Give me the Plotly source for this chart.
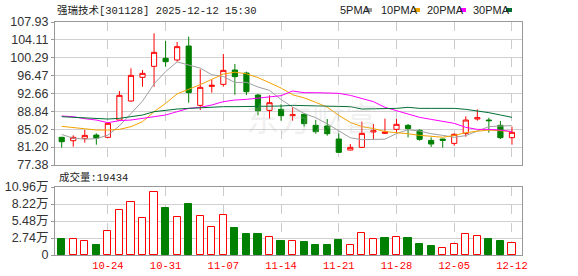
import plotly.graph_objects as go

dates = ["10-20","10-21","10-22","10-23","10-24",
         "10-27","10-28","10-29","10-30","10-31",
         "11-03","11-04","11-05","11-06","11-07",
         "11-10","11-11","11-12","11-13","11-14",
         "11-17","11-18","11-19","11-20","11-21",
         "11-24","11-25","11-26","11-27","11-28",
         "12-01","12-02","12-03","12-04","12-05",
         "12-08","12-09","12-10","12-11","12-12"]

opens  = [83.29,82.57,83.07,83.78,83.29,86.99,91.05,96.11,98.46,100.17,
          99.81,102.80,90.12,94.18,94.61,97.67,97.03,92.33,89.05,89.27,
          87.92,88.20,85.85,85.71,82.93,80.58,81.15,84.43,84.14,85.00,
          85.85,84.78,82.64,82.93,82.00,84.14,87.21,86.99,85.85,83.22]
highs  = [83.40,83.71,84.85,84.14,86.56,93.18,98.03,97.67,105.51,103.87,
          103.66,104.80,97.82,95.68,101.09,98.96,97.32,92.54,92.26,90.34,
          89.70,88.34,86.99,87.21,84.14,81.86,86.64,86.14,87.28,87.21,
          86.14,85.00,83.29,83.00,84.14,87.78,89.27,87.49,86.78,85.57]
lows   = [81.08,81.29,82.15,81.72,83.20,86.78,90.91,94.11,94.11,98.39,
          99.45,90.69,89.13,92.83,94.11,92.40,92.33,87.99,87.27,86.85,
          86.85,85.57,84.07,83.64,79.95,80.50,81.10,82.93,84.00,84.29,
          83.29,82.57,81.22,81.08,81.50,83.43,86.85,84.29,82.93,81.72]
closes = [82.36,83.29,83.71,83.14,86.28,92.26,96.53,96.96,101.45,99.45,
          102.66,92.83,93.97,94.40,97.60,96.25,93.04,88.98,90.69,87.92,
          88.13,86.21,84.50,84.07,80.08,81.15,84.14,84.71,84.43,86.07,
          85.14,82.86,81.86,82.64,83.93,86.99,87.49,86.85,83.22,84.36]

ma5  = [83.90,83.10,82.90,83.00,83.76,85.74,88.38,91.03,94.70,97.33,
        99.41,98.67,98.07,96.66,96.29,95.01,95.05,94.05,93.31,91.38,
        89.75,88.39,87.49,86.17,84.60,83.20,82.79,82.83,82.90,84.10,
        84.90,84.64,84.07,83.71,83.29,83.66,84.58,85.58,85.70,85.78]
ma10 = [85.64,85.35,84.99,84.85,84.85,84.99,85.57,86.63,88.77,90.54,
        92.57,93.53,94.55,95.68,96.81,97.21,96.86,96.06,94.99,93.83,
        92.38,91.72,90.77,89.74,87.99,86.48,85.59,85.16,84.53,84.35,
        84.05,83.72,83.45,83.31,83.69,84.28,84.61,84.83,84.71,84.53]
ma20 = [87.84,87.70,87.27,86.99,86.42,86.85,86.99,87.27,87.70,88.06,
        88.77,89.48,89.70,90.20,90.91,91.26,91.40,91.62,91.97,92.19,
        93.19,92.83,92.83,92.83,92.69,92.26,91.62,90.91,89.70,88.98,
        88.20,87.56,87.13,86.78,86.28,85.42,84.99,84.99,84.85,84.50]
ma30 = [87.70,87.56,87.35,87.20,87.20,87.35,87.70,88.06,88.77,89.13,
        89.34,89.48,89.63,89.70,89.84,89.84,89.84,89.84,89.98,89.98,
        90.12,90.05,90.05,89.98,89.98,89.84,89.34,89.34,89.48,89.48,
        89.70,89.48,89.48,89.48,89.48,89.27,88.98,88.56,88.06,87.56]

volumes = [25900,25400,22100,16200,39400,71800,84800,59400,101500,75600,
           60500,82100,62100,45900,63700,43700,34000,34000,29200,22700,
           22700,21100,16200,16200,24300,15700,35100,25900,27500,29200,
           27500,17800,14600,11300,17300,33500,30800,25900,22700,19434]

price_ticks = [77.38,81.20,85.02,88.84,92.66,96.47,100.29,104.11,107.93]
vol_tickvals = [0,27400,54800,82200,109600]
vol_ticktext = ["0","2.74万","5.48万","8.22万","10.96万"]
xtick_labels = ["10-24","10-31","11-07","11-14","11-21","11-28","12-05","12-12"]

RED = "#ff0000"
GREEN = "#008000"
W, H = 578, 276
X0, X1 = 55, 522
def py(p):
    return 1 - p / H

# volume colours: compare close with previous close
vol_red = [False] + [closes[i] >= closes[i-1] for i in range(1, len(closes))]
vol_line = [RED if r else GREEN for r in vol_red]
vol_fill = ["#ffffff" if r else GREEN for r in vol_red]

fig = go.Figure()

fig.add_trace(go.Candlestick(
    x=dates, open=opens, high=highs, low=lows, close=closes,
    increasing=dict(line=dict(color=RED, width=1), fillcolor="#ffffff"),
    decreasing=dict(line=dict(color=GREEN, width=1), fillcolor=GREEN),
    whiskerwidth=0, xaxis="x", yaxis="y", showlegend=False, hoverinfo="skip"))

for vals, col in [(ma5, "#a0a0a0"), (ma10, "#f5a300"), (ma20, "#ff00ff"), (ma30, "#006e33")]:
    fig.add_trace(go.Scatter(x=dates, y=vals, mode="lines",
                             line=dict(color=col, width=1),
                             xaxis="x", yaxis="y", showlegend=False, hoverinfo="skip"))

fig.add_trace(go.Bar(x=dates, y=volumes, width=0.62,
                     marker=dict(color=vol_fill, line=dict(color=vol_line, width=1)),
                     xaxis="x2", yaxis="y2", showlegend=False, hoverinfo="skip"))

xr = [-0.58, 39.87]
axis_common = dict(showline=True, mirror=True, linecolor="#999999", linewidth=1,
                   automargin=False, zeroline=False)

fig.update_layout(
    template="none",
    width=W, height=H,
    margin=dict(l=0, r=0, t=0, b=0),
    paper_bgcolor="#ffffff", plot_bgcolor="#ffffff",
    boxgap=0.36, bargap=0,
    xaxis=dict(domain=[X0/W, X1/W], anchor="y", type="category", categoryarray=dates,
               range=xr, tickmode="array", tickvals=xtick_labels, showticklabels=False,
               showgrid=True, gridcolor="#cccccc", griddash="dash", gridwidth=1,
               ticks="", rangeslider=dict(visible=False), **axis_common),
    yaxis=dict(domain=[py(165), py(22)], anchor="x", range=[77.38, 107.93],
               tickmode="array", tickvals=price_ticks,
               ticktext=["%.2f" % v for v in price_ticks],
               showgrid=True, gridcolor="#d0d0d0", gridwidth=1,
               ticks="outside", ticklen=3, tickcolor="#999999",
               tickfont=dict(family="Liberation Sans", size=12.5, color="#333333"),
               **axis_common),
    xaxis2=dict(domain=[X0/W, X1/W], anchor="y2", type="category", categoryarray=dates,
                range=xr, tickmode="array", tickvals=xtick_labels, ticktext=xtick_labels,
                showgrid=True, gridcolor="#cccccc", griddash="dash", gridwidth=1,
                ticks="", tickfont=dict(family="Liberation Mono", size=10.5, color=RED),
                **axis_common),
    yaxis2=dict(domain=[py(255), py(187)], anchor="x2", range=[0, 109600],
                tickmode="array", tickvals=vol_tickvals, ticktext=vol_ticktext,
                showgrid=True, gridcolor="#d0d0d0", gridwidth=1,
                ticks="outside", ticklen=3, tickcolor="#999999",
                tickfont=dict(family="Liberation Sans, Noto Sans CJK SC", size=12.5, color="#333333"),
                **axis_common),
)

annots = [
    dict(text="东方财富", x=312/W, y=py(91), xref="paper", yref="paper",
         showarrow=False, font=dict(family="Noto Sans CJK SC", size=33, color="rgba(190,190,190,0.22)")),
    dict(text="强瑞技术[301128] 2025-12-12 15:30", x=X0/W, y=py(10), xref="paper", yref="paper",
         xanchor="left", yanchor="middle", showarrow=False,
         font=dict(family="Liberation Mono, Noto Sans CJK SC", size=10.5, color="#222222")),
    dict(text="成交量:19434", x=57/W, y=py(177), xref="paper", yref="paper",
         xanchor="left", yanchor="middle", showarrow=False,
         font=dict(family="Liberation Mono, Noto Sans CJK SC", size=10.5, color="#222222")),
]
legend_items = [("5PMA", 338, "#a0a0a0", 366), ("10PMA", 379, "#f5a300", 414),
                ("20PMA", 425, "#ff00ff", 460), ("30PMA", 471, "#006e33", 506)]
shapes = []
for name, tx, col, sx in legend_items:
    annots.append(dict(text=name, x=tx/W, y=py(10), xref="paper", yref="paper",
                       xanchor="left", yanchor="middle", showarrow=False,
                       font=dict(family="Liberation Sans Narrow, Liberation Sans", size=11, color="#222222")))
    shapes.append(dict(type="rect", xref="paper", yref="paper",
                       x0=sx/W, x1=(sx+6)/W, y0=py(12), y1=py(8),
                       fillcolor=col, line=dict(width=0)))
fig.update_layout(annotations=annots, shapes=shapes)

fig.write_html("out.html")
